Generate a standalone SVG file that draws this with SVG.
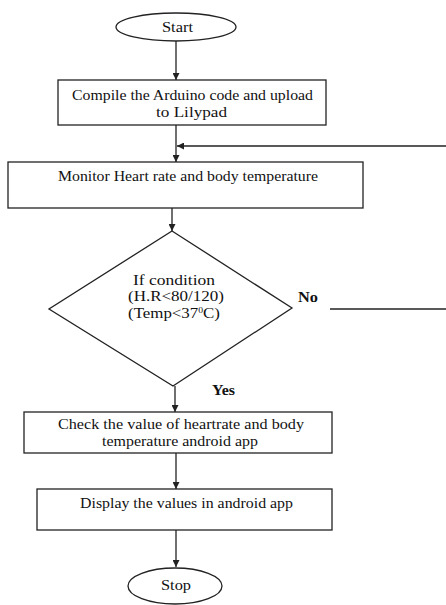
<svg xmlns="http://www.w3.org/2000/svg" width="446" height="605" viewBox="0 0 446 605">
<style>
.s{fill:#fff;stroke:#222;stroke-width:1.3}
.t{font-family:"Liberation Serif","Times New Roman",serif;font-size:14px;fill:#111;text-anchor:middle}
.b{font-weight:bold}
.c{fill:none;stroke:#222;stroke-width:1.3}
</style>
<defs>
<marker id="ah" viewBox="0 0 10 10" refX="10" refY="5" markerWidth="7" markerHeight="7" markerUnits="userSpaceOnUse" orient="auto">
<path d="M0,0 L10,5 L0,10 z" fill="#222"/>
</marker>
</defs>
<rect width="446" height="605" fill="#fff"/>
<g id="connectors">
<line class="c" x1="176" y1="41" x2="176" y2="80" marker-end="url(#ah)"/>
<line class="c" x1="176" y1="125" x2="176" y2="162" marker-end="url(#ah)"/>
<line class="c" x1="446" y1="146" x2="177" y2="146" marker-end="url(#ah)"/>
<line class="c" x1="172" y1="208" x2="172" y2="231" marker-end="url(#ah)"/>
<line class="c" x1="330" y1="309" x2="446" y2="309"/>
<line class="c" x1="175" y1="386" x2="175" y2="412" marker-end="url(#ah)"/>
<line class="c" x1="176" y1="453" x2="176" y2="489" marker-end="url(#ah)"/>
<line class="c" x1="176" y1="530" x2="176" y2="567" marker-end="url(#ah)"/>
<text class="t b" x="308" y="302" textLength="20" lengthAdjust="spacingAndGlyphs">No</text>
<text class="t b" x="223.5" y="395" textLength="23" lengthAdjust="spacingAndGlyphs">Yes</text>
</g>
<g id="start">
<ellipse class="s" cx="176" cy="27" rx="60" ry="14"/>
<text class="t" x="177.5" y="32" textLength="31" lengthAdjust="spacingAndGlyphs">Start</text>
</g>
<g id="compile">
<rect class="s" x="58" y="80" width="268" height="45"/>
<text class="t" x="192.5" y="100" textLength="241" lengthAdjust="spacingAndGlyphs">Compile the Arduino code and upload</text>
<text class="t" x="191.5" y="117" textLength="71" lengthAdjust="spacingAndGlyphs">to Lilypad</text>
</g>
<g id="monitor">
<rect class="s" x="8" y="162" width="355" height="46"/>
<text class="t" x="188" y="181" textLength="260" lengthAdjust="spacingAndGlyphs">Monitor Heart rate and body temperature</text>
</g>
<g id="decision">
<polygon class="s" points="172,231 292,308 173,386 49,309"/>
<text class="t" x="174" y="285" textLength="82" lengthAdjust="spacingAndGlyphs">If condition</text>
<text class="t" x="176" y="301" textLength="96" lengthAdjust="spacingAndGlyphs">(H.R&lt;80/120)</text>
<text class="t" x="174" y="318" textLength="92" lengthAdjust="spacingAndGlyphs">(Temp&lt;37<tspan font-size="8" dy="-5">0</tspan><tspan dy="5">C)</tspan></text>
</g>
<g id="check">
<rect class="s" x="24" y="412" width="308" height="41"/>
<text class="t" x="181" y="429" textLength="246" lengthAdjust="spacingAndGlyphs">Check the value of heartrate and body</text>
<text class="t" x="180" y="446" textLength="156" lengthAdjust="spacingAndGlyphs">temperature android app</text>
</g>
<g id="display">
<rect class="s" x="37" y="489" width="295" height="41"/>
<text class="t" x="186.5" y="508" textLength="213" lengthAdjust="spacingAndGlyphs">Display the values in android app</text>
</g>
<g id="stop">
<ellipse class="s" cx="175" cy="586" rx="47" ry="18"/>
<text class="t" x="176" y="590" textLength="30" lengthAdjust="spacingAndGlyphs">Stop</text>
</g>
</svg>
